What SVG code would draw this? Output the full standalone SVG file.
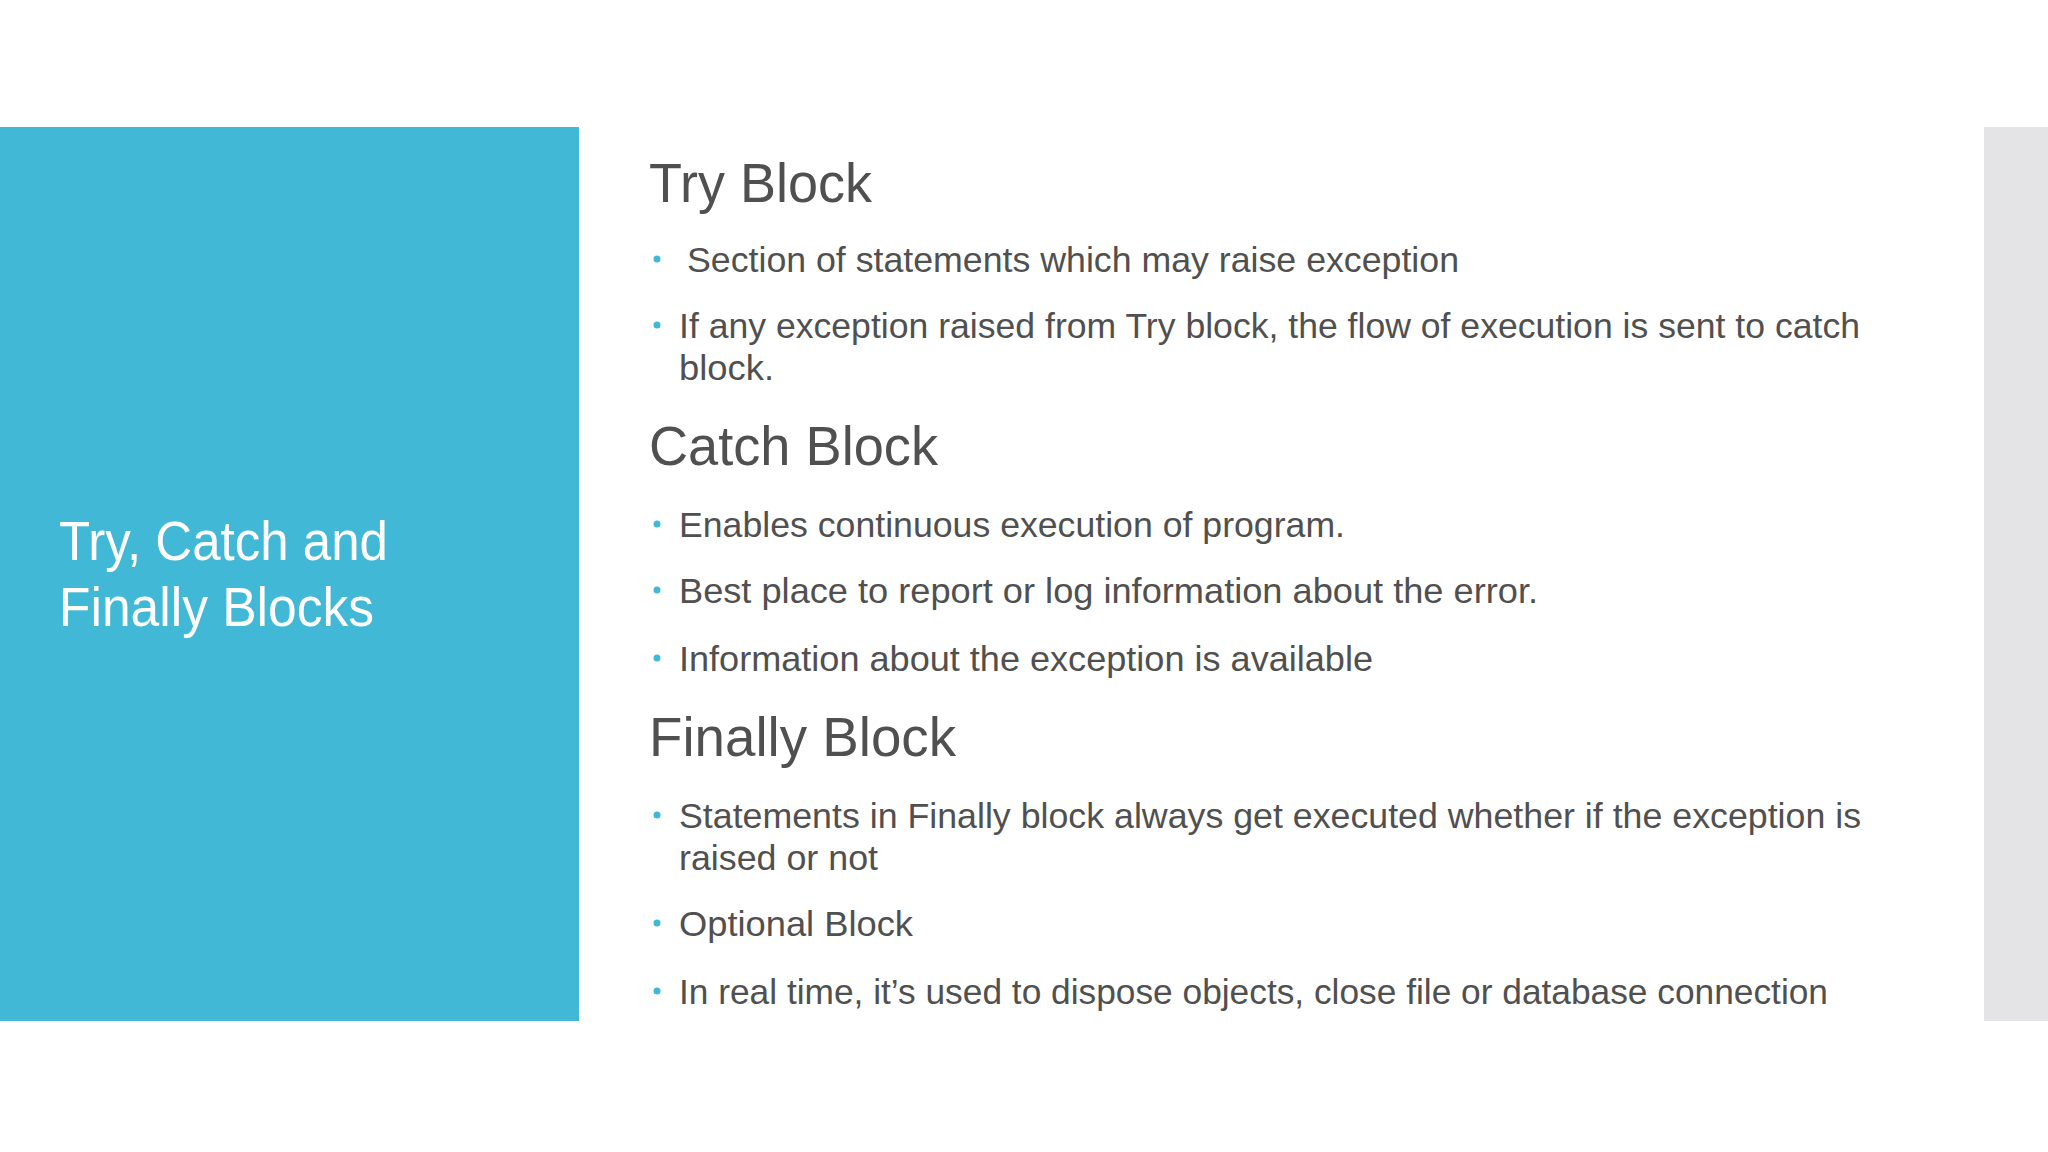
<svg xmlns="http://www.w3.org/2000/svg" width="2048" height="1152" viewBox="0 0 2048 1152">
<style>
.h{font-family:"Liberation Sans",Arial,sans-serif;font-size:56px;fill:#505050}
.b{font-family:"Liberation Sans",Arial,sans-serif;font-size:35px;fill:#505050}
.t{font-family:"Liberation Sans",Arial,sans-serif;font-size:56px;fill:#ffffff}
.d{fill:#41b8d5}
</style>
<rect width="2048" height="1152" fill="#ffffff"/>
<rect id="panel" x="0" y="127" width="579" height="894" fill="#41b8d5"/>
<rect id="sidebar" x="1984" y="127" width="64" height="894" fill="#e4e4e6"/>
<g id="title">
<text class="t" x="59" y="560" textLength="329" lengthAdjust="spacingAndGlyphs">Try, Catch and</text>
<text class="t" x="59" y="626" textLength="315" lengthAdjust="spacingAndGlyphs">Finally Blocks</text>
</g>
<g id="try">
<text class="h" x="649" y="202" textLength="223" lengthAdjust="spacingAndGlyphs">Try Block</text>
<circle class="d" cx="657" cy="259" r="3.5"/>
<text class="b" x="687" y="272" textLength="772" lengthAdjust="spacingAndGlyphs">Section of statements which may raise exception</text>
<circle class="d" cx="657" cy="325" r="3.5"/>
<text class="b" x="679" y="338" textLength="1181" lengthAdjust="spacingAndGlyphs">If any exception raised from Try block, the flow of execution is sent to catch</text>
<text class="b" x="679" y="380" textLength="95" lengthAdjust="spacingAndGlyphs">block.</text>
</g>
<g id="catch">
<text class="h" x="649" y="465" textLength="289" lengthAdjust="spacingAndGlyphs">Catch Block</text>
<circle class="d" cx="657" cy="524" r="3.5"/>
<text class="b" x="679" y="537" textLength="666" lengthAdjust="spacingAndGlyphs">Enables continuous execution of program.</text>
<circle class="d" cx="657" cy="590" r="3.5"/>
<text class="b" x="679" y="603" textLength="859" lengthAdjust="spacingAndGlyphs">Best place to report or log information about the error.</text>
<circle class="d" cx="657" cy="658" r="3.5"/>
<text class="b" x="679" y="671" textLength="694" lengthAdjust="spacingAndGlyphs">Information about the exception is available</text>
</g>
<g id="finally">
<text class="h" x="649" y="756" textLength="307" lengthAdjust="spacingAndGlyphs">Finally Block</text>
<circle class="d" cx="657" cy="815" r="3.5"/>
<text class="b" x="679" y="828" textLength="1182" lengthAdjust="spacingAndGlyphs">Statements in Finally block always get executed whether if the exception is</text>
<text class="b" x="679" y="870" textLength="199" lengthAdjust="spacingAndGlyphs">raised or not</text>
<circle class="d" cx="657" cy="923" r="3.5"/>
<text class="b" x="679" y="936" textLength="234" lengthAdjust="spacingAndGlyphs">Optional Block</text>
<circle class="d" cx="657" cy="991" r="3.5"/>
<text class="b" x="679" y="1004" textLength="1149" lengthAdjust="spacingAndGlyphs">In real time, it’s used to dispose objects, close file or database connection</text>
</g>
<g id="connectors"/>
</svg>
